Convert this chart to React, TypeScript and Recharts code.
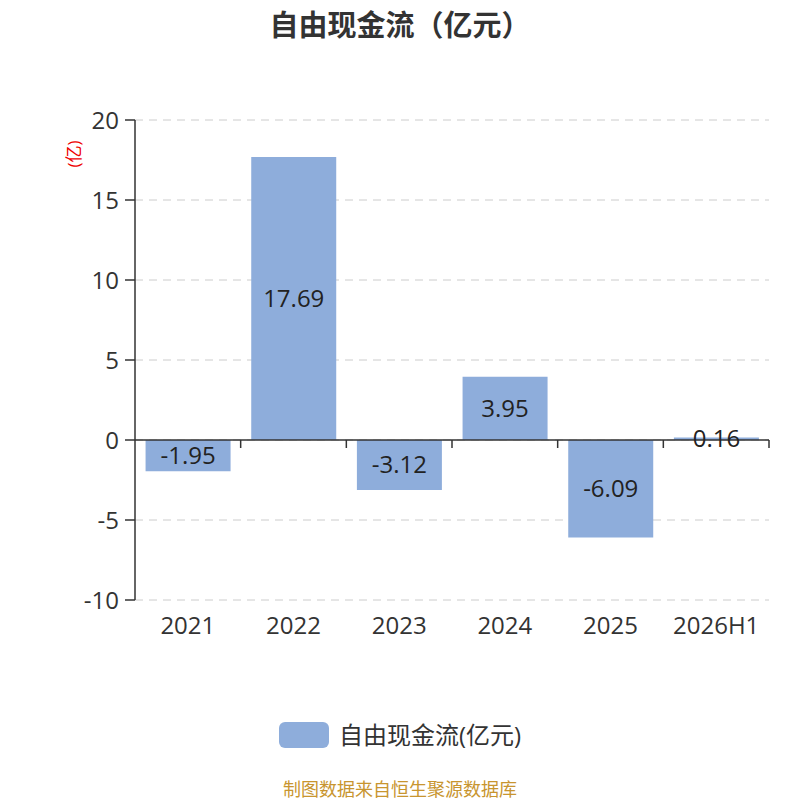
import { Bar, BarChart, CartesianGrid, LabelList, ReferenceLine, XAxis, YAxis } from "recharts";

const years = ["2021", "2022", "2023", "2024", "2025", "2026H1"];
const freeCashFlow = [-1.95, 17.69, -3.12, 3.95, -6.09, 0.16];
const yTicks = [-10, -5, 0, 5, 10, 15, 20];

const seriesName = "自由现金流(亿元)";
const barColor = "#8eaddb";
const font = "'Open Sans', 'Noto Sans CJK SC', sans-serif";

const data = years.map((year, i) => ({ year, value: freeCashFlow[i] }));

// zero line with ticks on the category boundaries
function ZeroAxis(props: any) {
  const { x1, y1, x2 } = props;
  const step = (x2 - x1) / years.length;
  const ticks = years.map((_, i) => x1 + step * (i + 1));
  return (
    <g>
      <line x1={x1} y1={y1} x2={x2} y2={y1} stroke="#333" strokeWidth={1.5} />
      {ticks.map((x) => (
        <line key={x} x1={x} y1={y1} x2={x} y2={y1 + 8} stroke="#333" strokeWidth={1.5} />
      ))}
    </g>
  );
}

export default function App() {
  return (
    <div style={{ position: "absolute", left: 0, top: 0, width: 800, height: 800, background: "#fff", fontFamily: font }}>
      <div style={{ position: "absolute", top: 2, width: 800, textAlign: "center", fontSize: 29, fontWeight: "bold", color: "#333" }}>
        自由现金流（亿元）
      </div>
      <BarChart width={800} height={800} data={data} margin={{ top: 120, right: 31, left: 75, bottom: 160 }} barCategoryGap="10%">
        <CartesianGrid vertical={false} stroke="#ccc" strokeDasharray="8 6" />
        <XAxis
          dataKey="year"
          axisLine={false}
          tickLine={false}
          tickMargin={11}
          height={40}
          tick={{ fill: "#333", fontSize: 24, fontFamily: font }}
        />
        <YAxis
          width={60}
          domain={[-10, 20]}
          ticks={yTicks}
          interval={0}
          axisLine={{ stroke: "#333", strokeWidth: 1.5 }}
          tickLine={{ stroke: "#333", strokeWidth: 1.5 }}
          tickSize={10}
          tickMargin={6}
          tick={{ fill: "#333", fontSize: 24, fontFamily: font }}
          label={{
            content: () => (
              <text x={73} y={154} fill="#e00" fontSize={17} fontFamily={font} textAnchor="middle" dominantBaseline="central" transform="rotate(-90 73 154)">
                (亿)
              </text>
            ),
          }}
        />
        <Bar dataKey="value" name={seriesName} fill={barColor} isAnimationActive={false}>
          <LabelList dataKey="value" position="center" fill="#222" fontSize={24} fontFamily={font} />
        </Bar>
        <ReferenceLine y={0} shape={ZeroAxis} />
      </BarChart>
      <div style={{ position: "absolute", top: 722, left: 0, width: 800, height: 26, display: "flex", justifyContent: "center", alignItems: "center" }}>
        <div style={{ width: 50, height: 26, borderRadius: 6, background: barColor, marginRight: 10 }} />
        <span style={{ fontSize: 24, lineHeight: 1, color: "#333" }}>{seriesName}</span>
      </div>
      <div style={{ position: "absolute", top: 780, width: 800, textAlign: "center", fontSize: 18, lineHeight: 1, color: "#c8952f" }}>
        制图数据来自恒生聚源数据库
      </div>
    </div>
  );
}
